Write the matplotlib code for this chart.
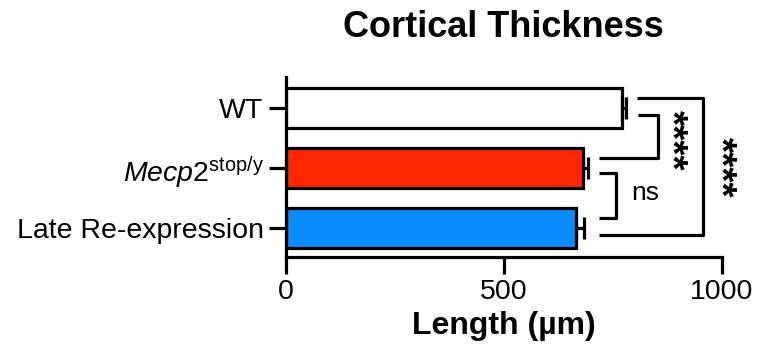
import matplotlib
matplotlib.use("Agg")
import matplotlib.pyplot as plt

plt.rcParams["font.family"] = ["Liberation Sans", "DejaVu Sans"]
plt.rcParams["mathtext.fontset"] = "custom"
plt.rcParams["mathtext.rm"] = "Liberation Sans"
plt.rcParams["mathtext.it"] = "Liberation Sans:italic"

groups = ["WT", r"$\mathit{Mecp2}^{\mathrm{stop/y}}$", "Late Re-expression"]
means = [772, 681, 665]
sems = [8, 13, 18]
colors = ["#FFFFFF", "#FF2600", "#0A8CFF"]
xticks = [0, 500, 1000]

LW = 2.3

fig = plt.figure(figsize=(7.58, 3.51), dpi=100)
ax = fig.add_axes([0.377, 0.268, 0.5752, 0.513])

ypos = [2, 1, 0]
ax.barh(ypos, means, height=0.66, color=colors, edgecolor="black", linewidth=LW, zorder=2)
ax.errorbar(means, ypos, xerr=[[0] * 3, sems], fmt="none", ecolor="black",
            elinewidth=LW, capsize=8, capthick=LW, zorder=3)

ax.set_xlim(0, 1000)
ax.set_ylim(-0.48, 2.52)
ax.set_yticks(ypos)
ax.set_yticklabels(groups, fontsize=20.5)
ax.set_xticks(xticks)
ax.set_xticklabels([str(t) for t in xticks], fontsize=20.5)
ax.set_xlabel("Length (µm)", fontsize=23, fontweight="bold", labelpad=4)
ax.set_title("Cortical Thickness", fontsize=26, fontweight="bold", pad=29)

for side in ("top", "right"):
    ax.spines[side].set_visible(False)
for side in ("left", "bottom"):
    ax.spines[side].set_linewidth(LW)
ax.tick_params(axis="both", width=LW, length=12, pad=4)

# significance brackets
kw = dict(color="black", linewidth=LW, clip_on=False, solid_capstyle="butt")
ax.plot([807, 853, 853, 718], [1.883, 1.883, 1.167, 1.167], **kw)
ax.plot([805, 956, 956, 718], [2.167, 2.167, -0.117, -0.117], **kw)
ax.plot([718, 757, 757, 718], [0.917, 0.917, 0.167, 0.167], **kw)
ax.text(882, 1.467, "****", rotation=-90, ha="center", va="center", fontsize=28, fontweight="bold")
ax.text(994, 1.017, "****", rotation=-90, ha="center", va="center", fontsize=28, fontweight="bold")
ax.text(792, 0.583, "ns", ha="left", va="center", fontsize=19)

fig.savefig("out.png", dpi=100)
